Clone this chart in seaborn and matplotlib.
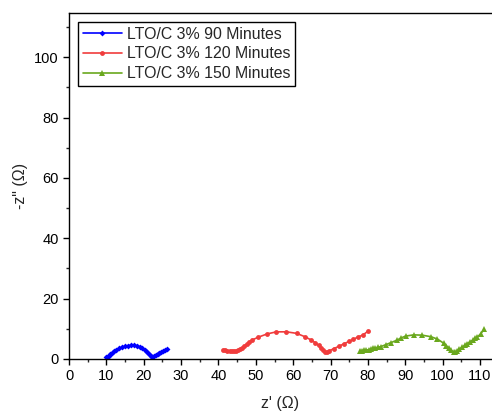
import pandas as pd
import numpy as np
import matplotlib
matplotlib.use('Agg')
import matplotlib.pyplot as plt
import seaborn as sns
from matplotlib.ticker import MultipleLocator

# EIS data
labels = ['LTO/C 3% 90 Minutes', 'LTO/C 3% 120 Minutes', 'LTO/C 3% 150 Minutes']

z_re_90 = [10.0, 10.3, 10.7, 11.1, 11.6, 12.1, 12.7, 13.4, 14.1, 14.9, 15.7, 16.5, 17.3, 18.1,
           18.9, 19.6, 20.3, 20.9, 21.5, 22.0, 22.3, 22.7, 23.2, 23.7, 24.2, 24.7, 25.2, 25.7, 26.2]
z_im_90 = [0.5, 0.8, 1.1, 1.5, 2.0, 2.5, 3.0, 3.5, 3.9, 4.2, 4.4, 4.5, 4.5, 4.4,
           4.1, 3.6, 3.0, 2.3, 1.6, 1.0, 0.8, 1.0, 1.4, 1.7, 2.0, 2.3, 2.6, 2.9, 3.2]

z_re_120 = [41.2, 41.8, 42.4, 43.0, 43.6, 44.2, 44.8, 45.3, 45.8, 46.3, 46.9, 47.6, 48.3, 49.0,
            50.6, 53.0, 55.5, 58.2, 60.9, 63.1, 64.8, 65.9, 66.8, 67.5, 68.1, 68.6, 69.0, 69.5,
            70.8, 72.2, 73.5, 74.9, 76.1, 77.3, 78.6, 80.1]
z_im_120 = [3.1, 2.9, 2.8, 2.7, 2.6, 2.6, 2.7, 2.9, 3.2, 3.7, 4.3, 5.0, 5.7, 6.3,
            7.2, 8.3, 9.0, 9.0, 8.5, 7.4, 6.3, 5.4, 4.5, 3.6, 2.9, 2.4, 2.3, 2.6,
            3.4, 4.2, 5.0, 5.8, 6.5, 7.3, 7.9, 9.3]

z_re_150 = [77.8, 78.4, 79.0, 79.6, 80.2, 80.8, 81.4, 82.0, 82.7, 83.4, 84.7, 86.1, 87.7, 88.9,
            90.1, 92.3, 94.5, 96.8, 98.6, 100.3, 101.0, 101.7, 102.3, 102.9, 103.3, 103.8, 104.5,
            105.3, 106.0, 106.6, 107.3, 108.0, 108.6, 109.3, 110.2, 111.1]
z_im_150 = [2.8, 2.8, 2.9, 3.0, 3.1, 3.3, 3.5, 3.7, 3.9, 4.1, 4.7, 5.4, 6.2, 7.0,
            7.6, 8.0, 7.9, 7.4, 6.6, 5.2, 4.4, 3.6, 2.9, 2.3, 2.2, 2.6, 3.3,
            4.0, 4.6, 5.1, 5.7, 6.2, 6.8, 7.3, 8.4, 9.8]

colors = ['#0000FF', '#F03C3C', '#6AA81E']
markers = ['D', 'o', '^']
marker_sizes = [3, 3.5, 4.5]

sns.set_style('ticks')
plt.rcParams['font.family'] = ['Liberation Sans', 'DejaVu Sans']

fig = plt.figure(figsize=(4.92, 4.16), dpi=100)
ax = fig.add_axes([69 / 492, 57 / 416, 423 / 492, 346.5 / 416])

series = [(z_re_90, z_im_90), (z_re_120, z_im_120), (z_re_150, z_im_150)]
for (xs, ys), lab, c, m, ms in zip(series, labels, colors, markers, marker_sizes):
    df = pd.DataFrame({'x': xs, 'y': ys})
    sns.lineplot(data=df, x='x', y='y', ax=ax, sort=False, estimator=None,
                 color=c, marker=m, markersize=ms, markeredgewidth=0,
                 linewidth=1.2, label=lab)

ax.set_xlim(0, 113.2)
ax.set_ylim(0, 114.8)
ax.xaxis.set_major_locator(MultipleLocator(10))
ax.xaxis.set_minor_locator(MultipleLocator(5))
ax.yaxis.set_major_locator(MultipleLocator(20))
ax.yaxis.set_minor_locator(MultipleLocator(10))
ax.tick_params(which='major', direction='out', length=4, width=1, labelsize=10.5, colors='black')
ax.tick_params(which='minor', direction='out', length=2.5, width=1)
for side in ['left', 'bottom', 'top']:
    ax.spines[side].set_color('black')
    ax.spines[side].set_linewidth(1)
ax.spines['right'].set_visible(False)

ax.set_xlabel("z' (\u03a9)", fontsize=11.5, labelpad=9)
ax.set_ylabel('-z" (\u03a9)', fontsize=11.5, labelpad=4)

leg = ax.legend(loc='upper left', bbox_to_anchor=(0.021, 0.973), borderaxespad=0,
                fancybox=False, edgecolor='black', framealpha=1, fontsize=11.4,
                handlelength=2.5, handletextpad=0.3, borderpad=0.3, labelspacing=0.3)
leg.get_frame().set_linewidth(1)

fig.savefig('out.png', dpi=100)
